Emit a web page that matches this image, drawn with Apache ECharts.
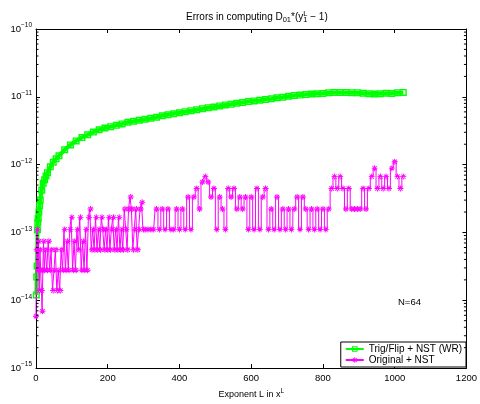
<!DOCTYPE html>
<html><head><meta charset="utf-8">
<script src="https://cdn.jsdelivr.net/npm/echarts@6/dist/echarts.min.js"></script>
<style>html,body{margin:0;padding:0;background:#fff}#c{width:480px;height:404px}</style>
</head><body><div id="c"></div>
<script>
// ---- data ----
var seriesNames = ['Trig/Flip + NST (WR)', 'Original + NST'];
var xTicks = [0, 200, 400, 600, 800, 1000, 1200];
var yDecades = [1e-15, 1e-14, 1e-13, 1e-12, 1e-11, 1e-10];

var greenL = [1,2,3,4,5,6,8,10,12,16,20,24,28,32,40,48,56,
  64,80,96,112,128,144,160,176,192,208,224,240,256,272,288,304,320,336,352,368,384,400,
  416,432,448,464,480,496,512,528,544,560,576,592,608,624,640,656,672,688,704,720,736,752,
  768,784,800,816,832,848,864,880,896,912,928,944,960,976,992,1008,1024];
var greenV = [1.2e-14,2.2e-14,3.2e-14,1.1e-13,1.4e-13,1.6e-13,2.0e-13,2.5e-13,3.0e-13,4.2e-13,5.3e-13,6.0e-13,6.8e-13,7.6e-13,9.3e-13,1.08e-12,1.22e-12,
  1.35e-12,1.66e-12,1.95e-12,2.24e-12,2.51e-12,2.75e-12,3.02e-12,3.27e-12,3.47e-12,3.63e-12,3.80e-12,3.98e-12,4.22e-12,4.37e-12,4.52e-12,4.68e-12,4.84e-12,5.01e-12,5.25e-12,5.43e-12,5.62e-12,5.82e-12,
  6.03e-12,6.24e-12,6.46e-12,6.68e-12,6.92e-12,7.08e-12,7.33e-12,7.59e-12,7.76e-12,8.04e-12,8.22e-12,8.51e-12,8.71e-12,8.91e-12,9.12e-12,9.33e-12,9.66e-12,9.89e-12,1.02e-11,1.05e-11,1.06e-11,1.08e-11,
  1.10e-11,1.11e-11,1.12e-11,1.15e-11,1.16e-11,1.16e-11,1.16e-11,1.15e-11,1.15e-11,1.13e-11,1.11e-11,1.10e-11,1.11e-11,1.13e-11,1.12e-11,1.15e-11,1.16e-11];

var magL = [0,2,4,6,8,10,12,14,16,18,20,22,24,
  28,32,36,40,44,48,52,56,60,64,68,72,76,80,84,88,92,96,100,104,108,112,116,120,124,128,132,136,140,144,
  148,152,156,160,164,168,172,176,180,184,188,192,196,200,204,208,212,216,220,224,228,232,236,240,244,
  248,252,256,260,264,268,272,276,280,284,288,292,296,300,
  304,312,320,328,336,344,352,360,368,376,384,392,400,408,416,424,432,440,
  448,456,464,472,480,488,496,504,512,520,528,536,544,552,560,568,576,584,592,600,608,616,624,632,640,
  648,656,664,672,680,688,696,704,712,720,728,736,744,752,760,768,776,784,792,800,808,816,824,832,840,
  848,856,864,872,880,888,896,904,912,920,928,936,944,952,960,968,976,984,992,1000,1008,1016,1024];
var magV = [5.8e-15,5.55e-14,1.11e-13,2.78e-14,7.4e-14,1.39e-14,5.55e-14,2.78e-14,1.39e-14,6.9e-15,2.78e-14,7.4e-14,2.78e-14,
  5.55e-14,2.78e-14,7.4e-14,2.78e-14,5.55e-14,1.39e-14,2.78e-14,5.55e-14,1.39e-14,2.78e-14,1.39e-14,5.55e-14,2.78e-14,1.11e-13,2.78e-14,7.4e-14,2.78e-14,1.11e-13,1.67e-13,2.78e-14,7.4e-14,2.78e-14,1.11e-13,5.55e-14,1.67e-13,2.78e-14,7.4e-14,2.78e-14,1.11e-13,2.78e-14,
  1.67e-13,2.22e-13,5.55e-14,1.11e-13,5.55e-14,1.67e-13,5.55e-14,1.11e-13,5.55e-14,1.67e-13,1.11e-13,5.55e-14,1.11e-13,5.55e-14,1.67e-13,5.55e-14,1.11e-13,1.67e-13,5.55e-14,1.11e-13,5.55e-14,1.67e-13,5.55e-14,1.11e-13,5.55e-14,
  2.22e-13,1.11e-13,5.55e-14,2.22e-13,3.33e-13,2.22e-13,5.55e-14,1.11e-13,2.22e-13,5.55e-14,1.11e-13,2.22e-13,2.78e-13,1.11e-13,
  1.11e-13,1.11e-13,1.11e-13,1.11e-13,2.22e-13,1.11e-13,2.22e-13,1.11e-13,2.22e-13,1.11e-13,1.11e-13,2.22e-13,1.11e-13,2.22e-13,1.11e-13,3.33e-13,1.11e-13,3.33e-13,
  4.44e-13,2.22e-13,5.55e-13,6.66e-13,5.55e-13,3.33e-13,4.44e-13,1.11e-13,3.33e-13,2.22e-13,1.11e-13,4.44e-13,3.33e-13,4.44e-13,2.22e-13,3.33e-13,2.22e-13,3.33e-13,1.11e-13,3.33e-13,1.11e-13,4.44e-13,1.11e-13,3.33e-13,4.44e-13,
  1.11e-13,2.22e-13,1.11e-13,3.33e-13,1.11e-13,2.22e-13,1.11e-13,2.22e-13,1.11e-13,2.22e-13,3.33e-13,1.11e-13,3.33e-13,2.22e-13,1.11e-13,2.22e-13,1.11e-13,2.22e-13,1.11e-13,2.22e-13,1.11e-13,2.22e-13,4.44e-13,6.66e-13,4.44e-13,
  6.66e-13,4.44e-13,2.22e-13,4.44e-13,2.22e-13,2.22e-13,2.22e-13,2.22e-13,4.44e-13,2.22e-13,4.44e-13,6.66e-13,8.88e-13,4.44e-13,6.66e-13,4.44e-13,6.66e-13,4.44e-13,8.88e-13,1.1e-12,6.66e-13,4.44e-13,6.66e-13];

// minor tick values for the log axis (2..9 in each decade)
var yMinor = [];
for (var d = -15; d < -10; d++) for (var m = 2; m <= 9; m++) yMinor.push(m * Math.pow(10, d));

var FONT = 'Liberation Sans, Arial, Helvetica, sans-serif';
var starPath = 'path://M-0.8,-5L0.8,-5L0.8,5L-0.8,5Z M-5,-0.8L5,-0.8L5,0.8L-5,0.8Z M-4.1,-3L3,4.1L4.1,3L-3,-4.1Z M-4.1,3L3,-4.1L4.1,-3L-3,4.1Z';
var ringPath = 'path://M0,0L10,0L10,10L0,10Z M2,2L2,8L8,8L8,2Z';

var chart = echarts.init(document.getElementById('c'), null, {renderer: 'canvas'});
var supRich = {
  b: {fontSize: 9.5, fontFamily: FONT, color: '#000'},
  s: {fontSize: 6.5, fontFamily: FONT, color: '#000', padding: [0, 0, 7, 0]}
};
var tBase = {fontFamily: FONT, color: '#000', fontWeight: 'normal', align: 'left'};
chart.setOption({
  animation: false,
  backgroundColor: '#fff',
  textStyle: {fontFamily: FONT},
  title: {
    text: '{t|Errors in computing D}{sub|01}{t|*(y}{sup|L}{sub|1}{t| \u2212 1)}',
    left: 181, top: 5,
    textStyle: {
      fontWeight: 'normal',
      rich: {
        t: Object.assign({fontSize: 10}, tBase),
        sub: Object.assign({fontSize: 7.5, padding: [5, 0, 0, 0]}, tBase),
        sup: Object.assign({fontSize: 7.5, padding: [0, 0, 6, 0], width: 0}, tBase)
      }
    }
  },
  grid: {left: 36, right: 12, top: 29, bottom: 33, containLabel: false},
  legend: {
    data: seriesNames,
    orient: 'vertical', right: 14, bottom: 37,
    backgroundColor: '#fff', borderColor: '#000', borderWidth: 1,
    padding: [2, 4, 2, 4], itemGap: 1, itemWidth: 18, itemHeight: 7,
    textStyle: {fontSize: 10, fontFamily: FONT, color: '#000'}
  },
  xAxis: [{
    type: 'value', min: 0, max: 1200, interval: 200, position: 'bottom',
    axisLine: {show: true, onZero: false, lineStyle: {color: '#000', width: 1}},
    axisTick: {show: true, inside: true, length: 4, lineStyle: {color: '#000'}},
    axisLabel: {fontSize: 9.5, color: '#000', margin: 5, fontFamily: FONT, formatter: function (v) { return String(v); }},
    splitLine: {show: false},
    name: '{t|Exponent L in x}{s|L}', nameLocation: 'middle', nameGap: 18,
    nameTextStyle: {rich: {t: {fontSize: 9, fontFamily: FONT, color: '#000'}, s: {fontSize: 6.5, fontFamily: FONT, color: '#000', padding: [0, 0, 6, 0]}}}
  }, {
    type: 'value', min: 0, max: 1200, interval: 200, position: 'top',
    axisLine: {show: true, onZero: false, lineStyle: {color: '#000', width: 1}},
    axisTick: {show: true, inside: true, length: 4, lineStyle: {color: '#000'}},
    axisLabel: {show: false}, splitLine: {show: false}
  }],
  yAxis: [{
    type: 'log', logBase: 10, min: 1e-15, max: 1e-10, position: 'left',
    axisLine: {show: true, onZero: false, lineStyle: {color: '#000', width: 1}},
    axisTick: {show: true, inside: true, length: 4, lineStyle: {color: '#000'}},
    axisLabel: {
      margin: 4, color: '#000',
      formatter: function (v) {
        var e = Math.round(Math.log10(v));
        return '{b|10}{s|\u2212' + Math.abs(e) + '}';
      },
      rich: supRich
    },
    splitLine: {show: false}
  }, {
    type: 'log', logBase: 10, min: 1e-15, max: 1e-10, position: 'right',
    axisLine: {show: true, onZero: false, lineStyle: {color: '#000', width: 1}},
    axisTick: {show: true, inside: true, length: 4, lineStyle: {color: '#000'}},
    axisLabel: {show: false}, splitLine: {show: false}
  }],
  graphic: [{
    type: 'text', left: 398, top: 297,
    style: {text: 'N=64', fontSize: 9.5, fontFamily: FONT, fill: '#000'}
  }],
  series: [{
    name: seriesNames[0], type: 'line',
    data: greenL.map(function (l, i) { return [l, greenV[i]]; }),
    symbol: ringPath, symbolSize: 7, showAllSymbol: true,
    itemStyle: {color: '#00ff00'},
    lineStyle: {color: '#00ff00', width: 4},
    z: 3
  }, {
    name: seriesNames[1], type: 'line', step: 'middle',
    data: magL.map(function (l, i) { return [l, magV[i]]; }),
    symbol: starPath, symbolSize: 6, showAllSymbol: true,
    itemStyle: {color: '#ff00ff'},
    lineStyle: {color: '#ff00ff', width: 1},
    z: 4
  }, {
    type: 'custom', name: 'minorTicks',
    data: yMinor.map(function (v) { return [0, v]; }),
    silent: true, clip: false, z: 10,
    renderItem: function (params, api) {
      var v = api.value(1);
      var pl = api.coord([0, v]);
      var pr = api.coord([1200, v]);
      return {
        type: 'group', children: [
          {type: 'line', shape: {x1: pl[0], y1: pl[1], x2: pl[0] + 2.5, y2: pl[1]}, style: {stroke: '#000', lineWidth: 1}},
          {type: 'line', shape: {x1: pr[0], y1: pr[1], x2: pr[0] - 2.5, y2: pr[1]}, style: {stroke: '#000', lineWidth: 1}}
        ]
      };
    }
  }]
});
</script></body></html>
